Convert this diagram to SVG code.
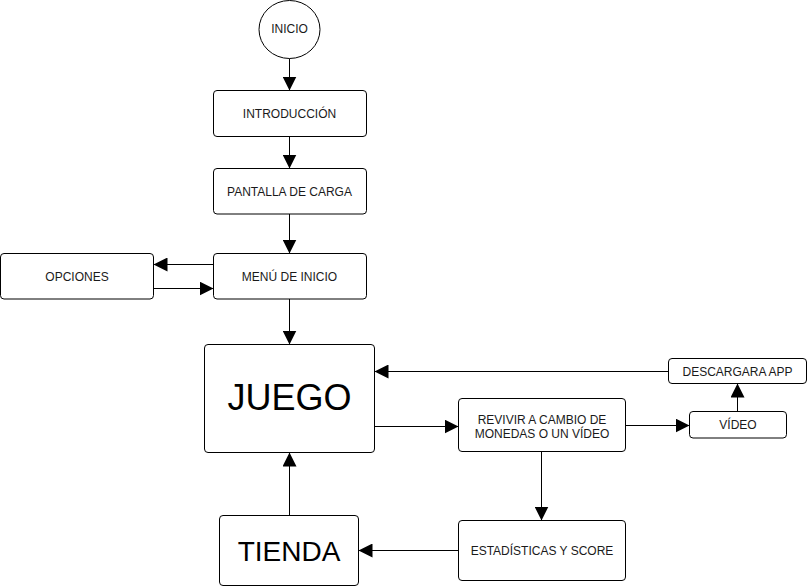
<svg xmlns="http://www.w3.org/2000/svg" width="808" height="587" viewBox="0 0 808 587">
<style>
.n{fill:#fff;stroke:#000;stroke-width:1}
.t{font-family:"Liberation Sans",Arial,sans-serif;font-size:12px;fill:#1a1a1a;text-anchor:middle}
.c{fill:none;stroke:#000;stroke-width:1}
</style>
<defs>
<marker id="ah" markerUnits="userSpaceOnUse" markerWidth="14" markerHeight="14" refX="14" refY="7" orient="auto">
<path d="M0,0 L14,7 L0,14 z" fill="#000"/>
</marker>
</defs>
<rect width="808" height="587" fill="#fff"/>
<g id="connectors">
<line class="c" x1="289.5" y1="58.5" x2="289.5" y2="90.5" marker-end="url(#ah)"/>
<line class="c" x1="289.5" y1="136.5" x2="289.5" y2="168.5" marker-end="url(#ah)"/>
<line class="c" x1="289.5" y1="214" x2="289.5" y2="253.5" marker-end="url(#ah)"/>
<line class="c" x1="213.5" y1="264.5" x2="153.5" y2="264.5" marker-end="url(#ah)"/>
<line class="c" x1="153.5" y1="288.5" x2="213.5" y2="288.5" marker-end="url(#ah)"/>
<line class="c" x1="289.5" y1="299" x2="289.5" y2="344.5" marker-end="url(#ah)"/>
<line class="c" x1="374.5" y1="426.5" x2="458.5" y2="426.5" marker-end="url(#ah)"/>
<line class="c" x1="625.5" y1="425.5" x2="689.5" y2="425.5" marker-end="url(#ah)"/>
<line class="c" x1="737.5" y1="411.5" x2="737.5" y2="383.5" marker-end="url(#ah)"/>
<line class="c" x1="668.5" y1="371.5" x2="374.5" y2="371.5" marker-end="url(#ah)"/>
<line class="c" x1="541.5" y1="451.5" x2="541.5" y2="520.5" marker-end="url(#ah)"/>
<line class="c" x1="458.5" y1="550.5" x2="358.5" y2="550.5" marker-end="url(#ah)"/>
<line class="c" x1="289.5" y1="515.5" x2="289.5" y2="452.5" marker-end="url(#ah)"/>
</g>
<g id="inicio">
<ellipse class="n" cx="289.5" cy="29.5" rx="30.5" ry="29"/>
<text class="t" x="289.5" y="32.5">INICIO</text>
</g>
<g id="introduccion">
<rect class="n" x="213.5" y="90.5" width="153" height="46" rx="3.5"/>
<text class="t" x="289.5" y="117.5">INTRODUCCIÓN</text>
</g>
<g id="pantalla">
<rect class="n" x="213.5" y="168.5" width="153" height="45.5" rx="3.5"/>
<text class="t" x="289.5" y="195.5">PANTALLA DE CARGA</text>
</g>
<g id="menu">
<rect class="n" x="213.5" y="253.5" width="153" height="45.5" rx="3.5"/>
<text class="t" x="289.5" y="280.5">MENÚ DE INICIO</text>
</g>
<g id="opciones">
<rect class="n" x="0.5" y="253.5" width="153" height="45.5" rx="3.5"/>
<text class="t" x="77" y="280.5">OPCIONES</text>
</g>
<g id="juego">
<rect class="n" x="204.5" y="344.5" width="170" height="108" rx="3.5"/>
<text class="t" x="289.5" y="410" style="font-size:36px;fill:#000">JUEGO</text>
</g>
<g id="descargara">
<rect class="n" x="668.5" y="358.5" width="138" height="25" rx="3.5"/>
<text class="t" x="737.5" y="375.5">DESCARGARA APP</text>
</g>
<g id="revivir">
<rect class="n" x="458.5" y="398.5" width="167" height="53" rx="3.5"/>
<text class="t" x="542" y="423.5">REVIVIR A CAMBIO DE</text>
<text class="t" x="542" y="437.5">MONEDAS O UN VÍDEO</text>
</g>
<g id="video">
<rect class="n" x="689.5" y="411.5" width="97" height="26.5" rx="3.5"/>
<text class="t" x="738" y="429">VÍDEO</text>
</g>
<g id="estadisticas">
<rect class="n" x="458.5" y="520.5" width="167" height="60" rx="3.5"/>
<text class="t" x="542" y="554.5">ESTADÍSTICAS Y SCORE</text>
</g>
<g id="tienda">
<rect class="n" x="219.5" y="515.5" width="139" height="70" rx="3.5"/>
<text class="t" x="289" y="560.5" style="font-size:28px;fill:#000">TIENDA</text>
</g>
</svg>
